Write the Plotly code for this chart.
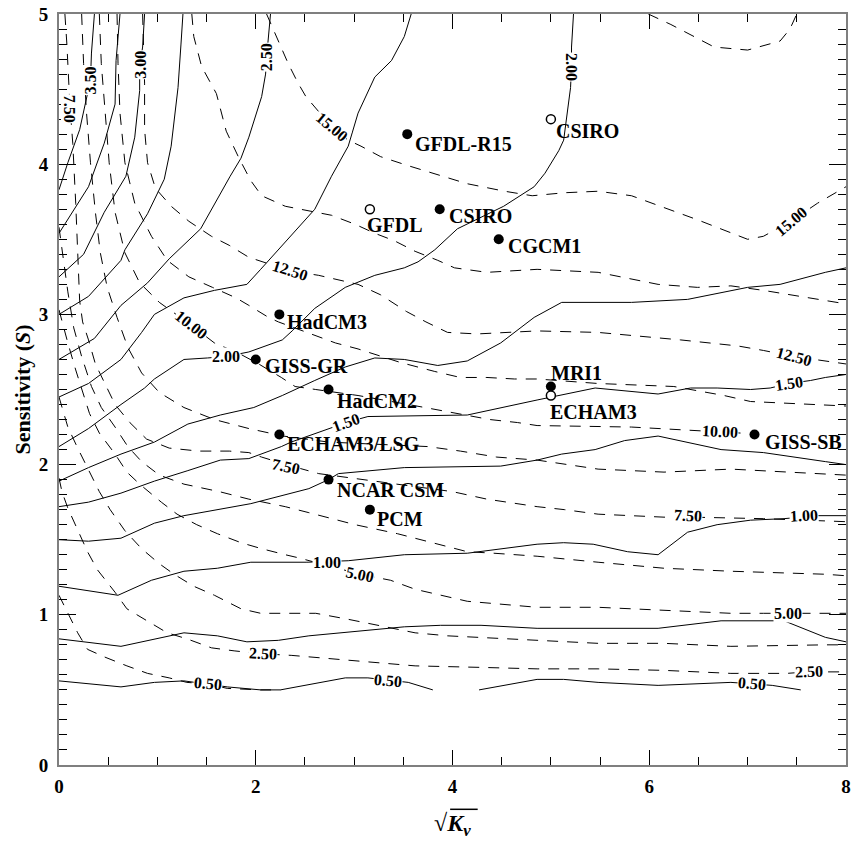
import plotly.graph_objects as go

# ---------------- solid contours (levels 0.50 ... 3.50, step 0.25) ----------------
s050_x = [0, 0.63, 0.97, 1.27, 1.71, 2.05, 2.25, 2.91, 3.14, 3.55, 3.80, None, 4.27, 4.86, 5.13, 5.48, 6.09, 6.83, 7.25, 7.54]
s050_y = [0.56, 0.52, 0.55, 0.56, 0.52, 0.50, 0.50, 0.58, 0.58, 0.55, 0.50, None, 0.50, 0.57, 0.57, 0.55, 0.53, 0.55, 0.53, 0.50]
s075_x = [0, 0.63, 1.27, 1.61, 1.91, 2.23, 2.54, 3.51, 3.88, 4.29, 4.86, 5.14, 5.48, 6.09, 6.73, 7.37, 7.79, 8.0]
s075_y = [0.84, 0.79, 0.88, 0.86, 0.82, 0.83, 0.86, 0.92, 0.93, 0.93, 0.91, 0.91, 0.91, 0.91, 0.96, 0.96, 0.85, 0.82]
s100_x = [0, 0.60, 0.94, 1.27, 1.61, 1.95, 2.52, 2.94, 3.51, 4.15, 4.86, 5.13, 5.43, 5.78, 6.09, 6.39, 6.69, 7.03, 7.37, 7.71, 8.0]
s100_y = [1.19, 1.13, 1.23, 1.29, 1.31, 1.35, 1.35, 1.36, 1.40, 1.41, 1.47, 1.48, 1.47, 1.42, 1.40, 1.55, 1.60, 1.63, 1.64, 1.66, 1.66]
s125_x = [0, 0.30, 0.63, 0.97, 1.27, 1.61, 1.95, 2.54, 2.74, 2.84, 3.51, 4.49, 4.86, 5.11, 5.45, 5.75, 6.09, 6.73, 7.16, 7.79, 8.0]
s125_y = [1.50, 1.49, 1.51, 1.61, 1.66, 1.70, 1.74, 1.84, 1.90, 1.94, 1.98, 1.99, 2.03, 2.07, 2.10, 2.16, 2.19, 2.10, 2.08, 2.02, 2.00]
s150_x = [0, 0.30, 0.63, 0.97, 1.31, 1.64, 1.93, 2.26, 2.36, 2.92, 3.14, 4.15, 4.86, 5.45, 6.09, 6.42, 6.69, 7.03, 7.23, 7.42, 7.64, 7.79, 8.0]
s150_y = [1.72, 1.75, 1.81, 1.89, 1.96, 2.03, 2.04, 2.12, 2.15, 2.28, 2.32, 2.33, 2.43, 2.51, 2.47, 2.51, 2.51, 2.50, 2.51, 2.54, 2.56, 2.58, 2.60]
s175_x = [0, 0.30, 0.63, 0.97, 1.31, 1.64, 1.98, 2.27, 2.60, 2.91, 3.21, 3.51, 3.85, 4.15, 4.49, 4.83, 5.11, 5.82, 6.39, 7.00, 7.33, 7.79, 8.0]
s175_y = [1.89, 1.98, 2.07, 2.15, 2.27, 2.33, 2.38, 2.46, 2.56, 2.65, 2.71, 2.70, 2.66, 2.69, 2.81, 2.98, 3.08, 3.08, 3.10, 3.18, 3.20, 3.28, 3.31]
s200_x = [0, 0.30, 0.63, 0.87, 0.97, 1.27, 1.51, 1.70, 1.93, 2.27, 2.37, 2.60, 2.91, 3.21, 3.51, 3.65, 3.82, 4.05, 4.52, 4.83, 4.94, 5.08, 5.13, 5.16, 5.20, 5.21, 5.21, 5.23]
s200_y = [2.12, 2.24, 2.40, 2.51, 2.57, 2.70, 2.71, 2.72, 2.75, 2.83, 2.89, 3.04, 3.18, 3.26, 3.31, 3.35, 3.43, 3.57, 3.72, 3.85, 3.94, 4.09, 4.16, 4.32, 4.51, 4.65, 4.78, 5.0]
s225_x = [0, 0.30, 0.63, 0.84, 0.97, 1.27, 1.58, 1.91, 2.05, 2.27, 2.60, 2.77, 2.94, 3.04, 3.21, 3.38, 3.51, 3.58]
s225_y = [2.45, 2.54, 2.70, 2.88, 3.00, 3.11, 3.16, 3.20, 3.30, 3.46, 3.70, 3.92, 4.12, 4.34, 4.58, 4.69, 4.85, 5.0]
s250_x = [0, 0.36, 0.63, 0.90, 1.12, 1.44, 1.74, 1.85, 1.93, 2.01, 2.06, 2.10, 2.11, 2.15]
s250_y = [2.70, 2.84, 3.06, 3.21, 3.37, 3.57, 3.92, 4.04, 4.18, 4.34, 4.45, 4.60, 4.71, 5.0]
s275_x = [0, 0.30, 0.63, 0.67, 0.90, 1.07, 1.14, 1.21, 1.24, 1.26]
s275_y = [3.00, 3.12, 3.36, 3.43, 3.67, 3.90, 4.12, 4.51, 4.80, 5.0]
s300_x = [0, 0.25, 0.46, 0.68, 0.77, 0.82, 0.82, 0.85, 0.87]
s300_y = [3.25, 3.40, 3.68, 3.92, 4.18, 4.49, 4.65, 4.78, 5.0]
s325_x = [0, 0.30, 0.46, 0.57, 0.58, 0.62]
s325_y = [3.54, 3.85, 4.14, 4.40, 4.69, 5.0]
s350_x = [0, 0.09, 0.21, 0.28, 0.32, 0.33, 0.36]
s350_y = [3.83, 4.01, 4.23, 4.43, 4.56, 4.74, 5.0]

# ---------------- dashed contours (levels 1.25 ... 16.25, step 1.25) ----------------
d125_x = [0, 0.09, 0.19, 0.29, 0.46, 0.69, 0.90, 1.12, 1.30, 1.51, 1.71, 2.05, 2.25]
d125_y = [1.13, 1.01, 0.88, 0.77, 0.72, 0.66, 0.61, 0.58, 0.55, 0.54, 0.51, 0.50, 0.50]
d250_x = [0, 0.03, 0.09, 0.13, 0.19, 0.29, 0.39, 0.57, 0.69, 0.89, 1.10, 1.30, 1.55, 1.78, 2.07, 2.36, 2.94, 3.62, 4.28, 4.86, 5.48, 6.15, 6.83, 7.40, 7.61, 8.0]
d250_y = [1.91, 1.82, 1.71, 1.65, 1.56, 1.42, 1.30, 1.15, 1.04, 0.96, 0.88, 0.84, 0.78, 0.76, 0.74, 0.73, 0.70, 0.66, 0.65, 0.64, 0.64, 0.63, 0.61, 0.61, 0.62, 0.62]
d375_x = [0, 0.03, 0.09, 0.19, 0.31, 0.41, 0.52, 0.67, 0.84, 1.02, 1.17, 1.37, 1.58, 1.85, 2.05, 2.61, 2.94, 3.34, 3.62, 3.95, 4.86, 5.48, 6.15, 6.83, 7.79, 8.0]
d375_y = [2.45, 2.38, 2.25, 2.11, 1.95, 1.82, 1.70, 1.56, 1.44, 1.34, 1.27, 1.19, 1.13, 1.04, 1.01, 1.01, 0.97, 0.92, 0.88, 0.86, 0.83, 0.81, 0.81, 0.79, 0.80, 0.80]
d500_x = [0, 0.04, 0.09, 0.17, 0.25, 0.31, 0.41, 0.57, 0.69, 0.82, 1.04, 1.20, 1.40, 1.61, 1.85, 2.06, 2.30, 2.43, 3.06, 3.37, 3.62, 3.82, 4.15, 4.86, 5.48, 6.15, 6.83, 7.16, 7.41, 8.0]
d500_y = [3.03, 2.93, 2.81, 2.63, 2.47, 2.34, 2.21, 2.07, 1.95, 1.87, 1.75, 1.67, 1.60, 1.54, 1.48, 1.44, 1.40, 1.38, 1.27, 1.23, 1.17, 1.14, 1.09, 1.05, 1.05, 1.03, 1.01, 1.01, 1.01, 1.01]
d625_x = [0, 0.04, 0.09, 0.15, 0.23, 0.33, 0.43, 0.57, 0.70, 0.84, 1.02, 1.27, 1.63, 1.93, 2.30, 2.54, 2.79, 3.01, 3.44, 3.68, 3.92, 4.15, 4.42, 4.69, 4.86, 5.48, 6.15, 6.83, 7.79, 8.0]
d625_y = [3.58, 3.38, 3.15, 2.91, 2.72, 2.52, 2.38, 2.25, 2.12, 2.02, 1.93, 1.87, 1.82, 1.77, 1.72, 1.68, 1.64, 1.60, 1.54, 1.50, 1.46, 1.42, 1.41, 1.40, 1.39, 1.35, 1.31, 1.29, 1.27, 1.26]
d750_x = [0.06, 0.08, 0.11, 0.14, 0.17, 0.19, 0.21, 0.24, 0.30, 0.37, 0.47, 0.57, 0.72, 0.89, 1.12, 1.42, 1.73, 1.93, 2.06, 2.31, 2.64, 3.44, 4.00, 4.35, 4.86, 5.14, 5.48, 6.15, 6.44, 7.16, 8.0]
d750_y = [5.0, 4.80, 4.40, 4.14, 3.74, 3.41, 3.09, 2.95, 2.83, 2.67, 2.53, 2.40, 2.28, 2.17, 2.11, 2.09, 2.09, 2.08, 2.05, 2.00, 1.94, 1.87, 1.82, 1.77, 1.72, 1.70, 1.67, 1.65, 1.65, 1.64, 1.62]
d875_x = [0.23, 0.25, 0.28, 0.32, 0.37, 0.42, 0.49, 0.59, 0.70, 0.84, 1.02, 1.27, 1.58, 1.93, 2.28, 2.74, 3.75, 4.08, 4.45, 4.86, 5.48, 6.15, 6.83, 7.16, 8.0]
d875_y = [5.0, 4.67, 4.34, 4.01, 3.68, 3.41, 3.18, 2.98, 2.78, 2.61, 2.48, 2.38, 2.30, 2.24, 2.19, 2.15, 2.12, 2.09, 2.05, 2.03, 1.97, 1.95, 1.97, 1.96, 1.93]
d1000_x = [0.41, 0.43, 0.47, 0.51, 0.57, 0.67, 0.82, 1.02, 1.34, 1.58, 1.83, 2.03, 2.26, 2.40, 2.61, 3.04, 3.72, 4.12, 4.38, 4.66, 4.86, 5.82, 6.42, 6.72, 6.93]
d1000_y = [5.0, 4.67, 4.34, 4.01, 3.68, 3.41, 3.21, 3.08, 2.93, 2.81, 2.74, 2.67, 2.58, 2.52, 2.50, 2.46, 2.38, 2.33, 2.30, 2.28, 2.26, 2.25, 2.23, 2.22, 2.21]
d1125_x = [0.59, 0.60, 0.62, 0.67, 0.77, 0.94, 1.10, 1.32, 1.56, 1.80, 1.93, 2.13, 2.23, 2.57, 2.81, 3.04, 3.24, 3.47, 3.82, 4.08, 4.35, 4.63, 4.86, 5.48, 6.25, 6.76, 7.03, 8.0]
d1125_y = [5.0, 4.67, 4.34, 4.01, 3.74, 3.52, 3.36, 3.25, 3.18, 3.11, 3.06, 2.98, 2.95, 2.87, 2.81, 2.77, 2.73, 2.68, 2.62, 2.58, 2.58, 2.57, 2.57, 2.54, 2.52, 2.46, 2.42, 2.39]
d1250_x = [0.85, 0.86, 0.87, 0.87, 0.90, 0.98, 1.14, 1.32, 1.55, 1.73, 1.93, 2.35, 2.64, 3.04, 3.27, 3.53, 3.73, 3.95, 4.25, 4.86, 5.48, 6.32, 6.90, 7.16, 7.47, 8.0]
d1250_y = [5.0, 4.80, 4.54, 4.23, 4.01, 3.84, 3.72, 3.62, 3.52, 3.46, 3.38, 3.29, 3.26, 3.20, 3.13, 3.02, 2.95, 2.88, 2.87, 2.89, 2.88, 2.83, 2.79, 2.76, 2.72, 2.67]
d1375_x = [1.35, 1.37, 1.45, 1.60, 1.70, 1.83, 1.95, 2.06, 2.30, 2.54, 2.77, 3.01, 3.21, 3.41, 3.62, 3.85, 4.02, 4.35, 4.86, 5.48, 6.09, 6.49, 6.83, 7.16, 8.0]
d1375_y = [5.0, 4.85, 4.65, 4.47, 4.22, 4.04, 3.89, 3.79, 3.72, 3.69, 3.66, 3.60, 3.54, 3.49, 3.42, 3.36, 3.31, 3.28, 3.30, 3.28, 3.20, 3.18, 3.19, 3.16, 3.07]
d1500_x = [2.11, 2.23, 2.33, 2.43, 2.51, 2.77, 2.94, 3.07, 3.27, 3.55, 3.85, 4.15, 4.53, 4.81, 5.14, 5.48, 5.82, 6.15, 6.49, 7.00, 7.16, 7.44, 7.71, 8.0]
d1500_y = [5.0, 4.82, 4.67, 4.54, 4.45, 4.25, 4.16, 4.12, 4.05, 3.99, 3.93, 3.87, 3.82, 3.79, 3.81, 3.82, 3.79, 3.71, 3.63, 3.50, 3.52, 3.62, 3.74, 3.85]
d1625_x = [5.99, 6.22, 6.66, 7.00, 7.33, 7.43, 7.50]
d1625_y = [5.0, 4.93, 4.78, 4.76, 4.82, 4.90, 5.0]

# ---------------- contour labels ----------------
lab_text = ["0.50", "0.50", "0.50", "1.00", "1.00", "1.50", "1.50", "2.00", "2.00", "2.50", "3.00", "3.50",
            "2.50", "2.50", "5.00", "5.00", "7.50", "7.50", "7.50", "10.00", "10.00", "12.50", "12.50", "15.00", "15.00"]
lab_x = [1.51, 3.34, 7.04, 2.72, 7.57, 2.92, 7.42, 1.70, 5.21, 2.11, 0.82, 0.32,
         2.07, 7.62, 3.06, 7.41, 2.31, 6.39, 0.11, 1.34, 6.72, 2.35, 7.47, 2.77, 7.44]
lab_y = [0.54, 0.56, 0.54, 1.35, 1.66, 2.28, 2.54, 2.72, 4.65, 4.71, 4.66, 4.56,
         0.74, 0.62, 1.27, 1.01, 1.99, 1.66, 4.37, 2.93, 2.22, 3.29, 2.72, 4.25, 3.62]
lab_angle = [5, 5, 5, 0, -3, -20, -8, 0, 90, -90, -90, -90,
             3, -2, 12, 0, 12, 3, 90, 38, 3, 18, 15, 40, -40]

# ---------------- models ----------------
model_names = ["GFDL-R15", "CSIRO", "CGCM1", "HadCM3", "GISS-GR", "HadCM2", "ECHAM3/LSG",
               "NCAR CSM", "PCM", "MRI1", "GISS-SB", "GFDL", "CSIRO", "ECHAM3"]
model_x = [3.54, 3.87, 4.47, 2.24, 2.00, 2.74, 2.24, 2.74, 3.16, 5.00, 7.07, 3.16, 5.00, 5.00]
model_y = [4.20, 3.70, 3.50, 3.00, 2.70, 2.50, 2.20, 1.90, 1.70, 2.52, 2.20, 3.70, 4.30, 2.46]
model_open = [False] * 11 + [True] * 3
label_dx = [6, 7, 7, 6, 7, 6, 6, 6, 5, -2, 8, -5, 3, -3]
label_dy = [-10, -7, -7, -8, -7, -11, -9, -10, -9, 14, -7, -16, -12, -16]

xtick_vals = [0, 2, 4, 6, 8]
ytick_vals = [0, 1, 2, 3, 4, 5]

FONT = "Liberation Serif"

solid = [(s050_x, s050_y), (s075_x, s075_y), (s100_x, s100_y), (s125_x, s125_y), (s150_x, s150_y),
         (s175_x, s175_y), (s200_x, s200_y), (s225_x, s225_y), (s250_x, s250_y), (s275_x, s275_y),
         (s300_x, s300_y), (s325_x, s325_y), (s350_x, s350_y)]
dashed = [(d125_x, d125_y), (d250_x, d250_y), (d375_x, d375_y), (d500_x, d500_y), (d625_x, d625_y),
          (d750_x, d750_y), (d875_x, d875_y), (d1000_x, d1000_y), (d1125_x, d1125_y), (d1250_x, d1250_y),
          (d1375_x, d1375_y), (d1500_x, d1500_y), (d1625_x, d1625_y)]

fig = go.Figure()
for xs, ys in solid:
    fig.add_trace(go.Scatter(x=xs, y=ys, mode="lines", line=dict(color="black", width=1),
                             connectgaps=False, hoverinfo="skip", showlegend=False))
for xs, ys in dashed:
    fig.add_trace(go.Scatter(x=xs, y=ys, mode="lines", line=dict(color="black", width=1, dash="11px,9px"),
                             connectgaps=False, hoverinfo="skip", showlegend=False))

fx = [x for x, o in zip(model_x, model_open) if not o]
fy = [y for y, o in zip(model_y, model_open) if not o]
ox = [x for x, o in zip(model_x, model_open) if o]
oy = [y for y, o in zip(model_y, model_open) if o]
fig.add_trace(go.Scatter(x=fx, y=fy, mode="markers", marker=dict(size=10, color="black"),
                         showlegend=False, hoverinfo="skip", cliponaxis=False))
fig.add_trace(go.Scatter(x=ox, y=oy, mode="markers",
                         marker=dict(size=9, color="white", line=dict(color="black", width=1.5)),
                         showlegend=False, hoverinfo="skip", cliponaxis=False))

annotations = []
for t, x, y, a in zip(lab_text, lab_x, lab_y, lab_angle):
    annotations.append(dict(x=x, y=y, xref="x", yref="y", text=t, showarrow=False, textangle=a,
                            font=dict(family=FONT, size=16, color="black", weight="bold"),
                            bgcolor="white", borderpad=0))
for n, x, y, dx, dy in zip(model_names, model_x, model_y, label_dx, label_dy):
    annotations.append(dict(x=x, y=y, xref="x", yref="y", text=n, showarrow=False,
                            xanchor="left", yanchor="middle", xshift=dx, yshift=dy,
                            font=dict(family=FONT, size=20, color="black", weight="bold")))
# axis titles
annotations.append(dict(x=-0.047, y=0.5, xref="paper", yref="paper", text="Sensitivity (<i>S</i>)",
                        showarrow=False, textangle=-90, xanchor="center", yanchor="middle",
                        font=dict(family=FONT, size=22, color="black", weight="bold")))
annotations.append(dict(x=0.5, y=-0.08, xref="paper", yref="paper",
                        text="√<i>K</i><sub><i>v</i></sub>",
                        showarrow=False, xanchor="center", yanchor="middle",
                        font=dict(family=FONT, size=24, color="black", weight="bold")))

axis_common = dict(showline=True, linecolor="#7f7f7f", linewidth=2, mirror="allticks",
                   ticks="inside", tickcolor="black", tickwidth=1, showgrid=False, zeroline=False,
                   ticklabeloverflow="allow",
                   tickfont=dict(family=FONT, size=19, color="black", weight="bold"))

fig.update_layout(
    width=855, height=843,
    margin=dict(l=59, r=4, t=10, b=78),
    paper_bgcolor="white", plot_bgcolor="white",
    xaxis=dict(range=[0, 8], tickvals=xtick_vals, ticklen=15, ticklabelstandoff=3,
               minor=dict(tick0=0, dtick=0.5, ticks="inside", ticklen=8, tickcolor="black", tickwidth=1),
               **axis_common),
    yaxis=dict(range=[0, 5], tickvals=ytick_vals, ticklen=17, ticklabelstandoff=5,
               minor=dict(tick0=0, dtick=0.1, ticks="inside", ticklen=8, tickcolor="black", tickwidth=1),
               **axis_common),
    annotations=annotations,
    shapes=[dict(type="line", xref="paper", yref="paper", x0=0.497, x1=0.532, y0=-0.059, y1=-0.059,
                 line=dict(color="black", width=1.5))],
)

fig.write_html("out.html", config={"displayModeBar": False},
               post_script="document.body.style.margin='0px';document.body.style.overflow='hidden';")
